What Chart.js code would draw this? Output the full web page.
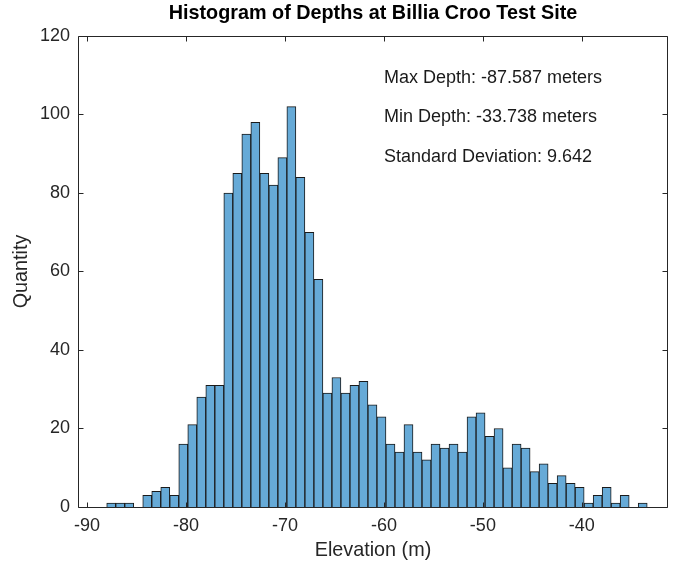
<!DOCTYPE html>
<html lang="en">
<head>
<meta charset="UTF-8">
<title>Histogram of Depths</title>
<script src="https://cdn.jsdelivr.net/npm/chart.js"></script>
<style>
    html, body { margin: 0; padding: 0; background: #fff; }
    #box { width: 680px; height: 567px; }
</style>
</head>
<body>
<div id="box"><canvas id="histo"></canvas></div>

<script>
    // bin edges (m) and counts per bin
    const binEdges = [-88.00, -87.09, -86.18, -85.27, -84.36, -83.45, -82.54, -81.63, -80.72, -79.81,
        -78.90, -77.99, -77.08, -76.17, -75.26, -74.35, -73.44, -72.53, -71.62, -70.71,
        -69.80, -68.89, -67.98, -67.07, -66.16, -65.25, -64.34, -63.43, -62.52, -61.61,
        -60.70, -59.79, -58.88, -57.97, -57.06, -56.15, -55.24, -54.33, -53.42, -52.51,
        -51.60, -50.69, -49.78, -48.87, -47.96, -47.05, -46.14, -45.23, -44.32, -43.41,
        -42.50, -41.59, -40.68, -39.77, -38.86, -37.95, -37.04, -36.13, -35.22, -34.31, -33.40];
    const counts = [1, 1, 1, 0, 3, 4, 5, 3, 16, 21,
        28, 31, 31, 80, 85, 95, 98, 85, 82, 89,
        102, 84, 70, 58, 29, 33, 29, 31, 32, 26,
        23, 16, 14, 21, 14, 12, 16, 15, 16, 14,
        23, 24, 18, 20, 10, 16, 15, 9, 11, 6,
        8, 6, 5, 1, 3, 5, 1, 3, 0, 1];

    const xTicks = [-90, -80, -70, -60, -50, -40];
    const yTicks = [0, 20, 40, 60, 80, 100, 120];

    // text box in the upper right (data coordinates)
    const notes = ['Max Depth: -87.587 meters', 'Min Depth: -33.738 meters', 'Standard Deviation: 9.642'];
    const notesX = [-60, -60, -60];
    const notesY = [110, 100, 90];

    const axisColor = '#262626';
    const fuente = "'Liberation Sans', Arial, sans-serif";

    let puntos = [];
    counts.forEach((c, i) => {
        puntos.push({ x: (binEdges[i] + binEdges[i + 1]) / 2, y: c });
    });

    // box around the axes + inward ticks like matlab, and the notes
    const axesBox = {
        id: 'axesBox',
        afterDatasetsDraw(chart) {
            const { ctx, chartArea: a, scales } = chart;
            const L = Math.round(a.left) + 0.5, R = Math.round(a.right) - 0.5;
            const T = Math.round(a.top) + 0.5, B = Math.round(a.bottom) + 0.5;
            const len = 5;
            ctx.save();
            ctx.strokeStyle = axisColor;
            ctx.lineWidth = 1;
            ctx.beginPath();
            ctx.rect(L, T, R - L, B - T);
            xTicks.forEach(v => {
                const px = Math.round(scales.x.getPixelForValue(v)) + 0.5;
                ctx.moveTo(px, B); ctx.lineTo(px, B - len);
                ctx.moveTo(px, T); ctx.lineTo(px, T + len);
            });
            yTicks.forEach(v => {
                const py = Math.round(scales.y.getPixelForValue(v)) + 0.5;
                ctx.moveTo(L, py); ctx.lineTo(L + len, py);
                ctx.moveTo(R, py); ctx.lineTo(R - len, py);
            });
            ctx.stroke();

            ctx.fillStyle = '#1a1a1a';
            ctx.font = "18px " + fuente;
            ctx.textAlign = 'left';
            ctx.textBaseline = 'middle';
            notes.forEach((t, i) => {
                ctx.fillText(t, scales.x.getPixelForValue(notesX[i]), scales.y.getPixelForValue(notesY[i]) + 3);
            });
            ctx.restore();
        }
    };

    Chart.defaults.font.family = fuente;
    Chart.defaults.color = axisColor;

    const config = {
        type: 'bar',
        data: {
            datasets: [{
                label: 'Depth',
                data: puntos,
                backgroundColor: '#66AAD7',
                borderColor: '#1a1a1a',
                borderWidth: 1,
                barPercentage: 1,
                categoryPercentage: 1
            }]
        },
        options: {
            responsive: false,
            animation: false,
            layout: { padding: { left: 0, right: 12, top: 0, bottom: 0 } },
            plugins: {
                legend: { display: false },
                tooltip: { enabled: false },
                title: {
                    display: true,
                    fullSize: false,
                    text: 'Histogram of Depths at Billia Croo Test Site',
                    color: '#000',
                    font: { size: 19.8, weight: 'bold' },
                    padding: { top: 2.1, bottom: 10.1 }
                }
            },
            scales: {
                x: {
                    type: 'linear',
                    min: -90.9,
                    max: -31.3,
                    offset: false,
                    grid: { display: false, drawTicks: false, offset: false },
                    border: { display: false },
                    afterBuildTicks: s => { s.ticks = xTicks.map(v => ({ value: v })); },
                    afterFit: s => { s.height = 60; },
                    ticks: { font: { size: 18 }, padding: 8.7, maxRotation: 0, callback: v => String(v) },
                    title: { display: true, text: 'Elevation (m)', font: { size: 19.8 }, padding: { top: 0, bottom: 4.1 } }
                },
                y: {
                    min: 0,
                    max: 120,
                    grid: { display: false, drawTicks: false },
                    border: { display: false },
                    afterBuildTicks: s => { s.ticks = yTicks.map(v => ({ value: v })); },
                    afterFit: s => { s.width = 78; },
                    ticks: { font: { size: 18 }, padding: 8, callback: v => String(v) },
                    title: { display: true, text: 'Quantity', font: { size: 19.8 }, padding: { top: 10.1, bottom: 0 } }
                }
            }
        },
        plugins: [axesBox]
    };

    const canvas = document.getElementById('histo');
    canvas.width = 680;
    canvas.height = 567;
    new Chart(canvas, config);
</script>
</body>
</html>
